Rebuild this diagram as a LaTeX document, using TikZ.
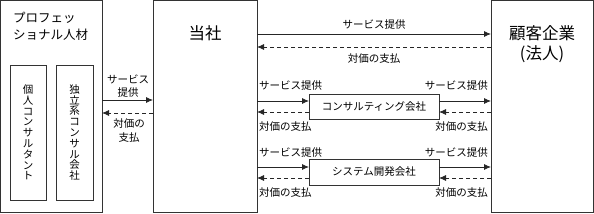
\documentclass[tikz,border=0pt]{standalone}
\usepackage{fontspec}
\setmainfont{Noto Sans CJK JP}
\usetikzlibrary{arrows.meta}
\begin{document}
\begin{tikzpicture}[x=1pt,y=-1pt,
  box/.style={draw=black!80, line width=0.8pt, inner sep=0pt, outer sep=0pt, anchor=north west},
  lbl/.style={font=\fontsize{10.5}{11}\selectfont, inner sep=0pt},
  ttl/.style={font=\fontsize{16.5}{18}\selectfont, inner sep=0pt, anchor=base},
  vtxt/.style={font=\fontsize{10.5}{10.8}\selectfont, inner sep=0pt, align=center},
  flow/.style={line width=0.8pt, black!85, -{Latex[length=7pt,width=6pt]}},
  back/.style={flow, dash pattern=on 4pt off 3pt},
]
\useasboundingbox (0,0) rectangle (594,214);
% boxes
\node[box, minimum width=101.5pt, minimum height=212pt] (pro) at (0.5,0.5) {};
\node[box, minimum width=36.5pt, minimum height=135pt] (kojin) at (10,65) {};
\node[box, minimum width=37pt, minimum height=135pt] (dokuritsu) at (56,65) {};
\node[box, minimum width=104pt, minimum height=212pt] (tosha) at (153,0.5) {};
\node[box, minimum width=102pt, minimum height=212pt] (kokyaku) at (491,0.5) {};
\node[box, minimum width=130pt, minimum height=25pt] (consul) at (309,94) {};
\node[box, minimum width=130pt, minimum height=26pt] (system) at (309,159) {};
% titles
\node[font=\fontsize{12.5}{14}\selectfont, inner sep=0pt, anchor=base west] (pro1) at (13,22) {プロフェッ};
\node[font=\fontsize{12.5}{14}\selectfont, inner sep=0pt, anchor=base west] (pro2) at (13,39) {ショナル人材};
\node[ttl] (toshaT) at (tosha.center |- 0,39) {当社};
\node[ttl] (kokyakuT1) at (kokyaku.center |- 0,39) {顧客企業};
\node[ttl] (kokyakuT2) at (kokyaku.center |- 0,59) {(法人)};
\node[vtxt] (kojinT) at (kojin.center) {個\\人\\コ\\ン\\サ\\ル\\タ\\ン\\ト};
\node[vtxt] (dokuritsuT) at (dokuritsu.center) {独\\立\\系\\コ\\ン\\サ\\ル\\会\\社};
\node[lbl] (consulT) at (consul.center) {コンサルティング会社};
\node[lbl] (systemT) at (system.center) {システム開発会社};
% left arrows
\draw[flow] (pro.east |- 0,100) -- (tosha.west |- 0,100);
\draw[back] (tosha.west |- 0,113) -- (pro.east |- 0,113);
\node[lbl, anchor=base] (l1) at (128,83) {サービス};
\node[lbl, anchor=base] (l2) at (128,96) {提供};
\node[lbl, anchor=base] (l3) at (129,127) {対価の};
\node[lbl, anchor=base] (l4) at (129,141) {支払};
% top arrows
\draw[flow] (tosha.east |- 0,34) -- (kokyaku.west |- 0,34);
\draw[back] (kokyaku.west |- 0,47) -- (tosha.east |- 0,47);
\node[lbl, anchor=base] (t1) at (374,28) {サービス提供};
\node[lbl, anchor=base] (t2) at (374,62) {対価の支払};
% consulting
\draw[flow] (tosha.east |- 0,101) -- (consul.west |- 0,101);
\draw[flow] (consul.east |- 0,101) -- (kokyaku.west |- 0,101);
\draw[back] (consul.west |- 0,112) -- (tosha.east |- 0,112);
\draw[back] (kokyaku.west |- 0,112) -- (consul.east |- 0,112);
\node[lbl, anchor=base west] (c1) at (259,89.5) {サービス提供};
\node[lbl, anchor=base east] (c2) at (488,89.5) {サービス提供};
\node[lbl, anchor=base west] (c3) at (259,130) {対価の支払};
\node[lbl, anchor=base east] (c4) at (488,130) {対価の支払};
% system
\draw[flow] (tosha.east |- 0,167) -- (system.west |- 0,167);
\draw[flow] (system.east |- 0,167) -- (kokyaku.west |- 0,167);
\draw[back] (system.west |- 0,178) -- (tosha.east |- 0,178);
\draw[back] (kokyaku.west |- 0,178) -- (system.east |- 0,178);
\node[lbl, anchor=base west] (s1) at (259,156) {サービス提供};
\node[lbl, anchor=base east] (s2) at (488,156) {サービス提供};
\node[lbl, anchor=base west] (s3) at (259,196) {対価の支払};
\node[lbl, anchor=base east] (s4) at (488,196) {対価の支払};
\end{tikzpicture}
\end{document}
